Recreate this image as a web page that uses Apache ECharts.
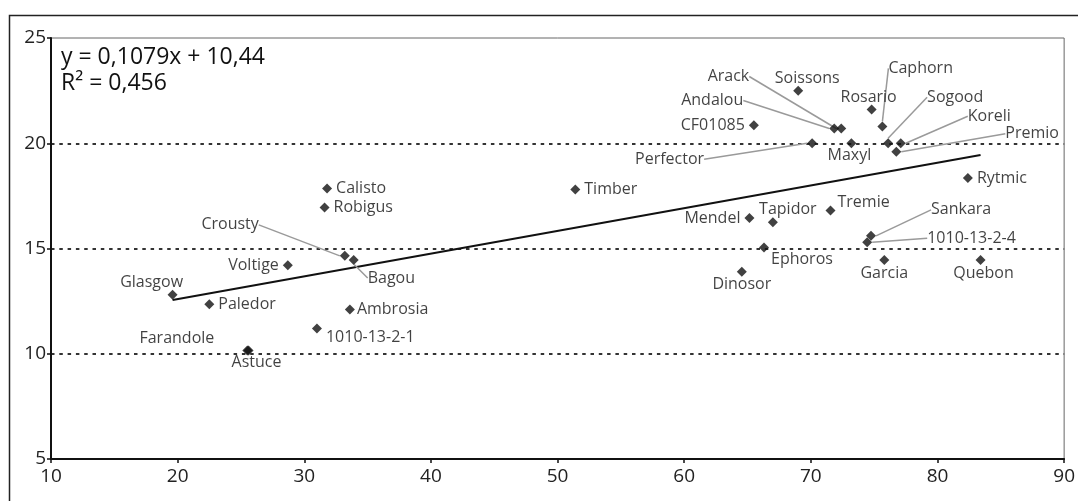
<!DOCTYPE html>
<html>
<head>
<meta charset="utf-8">
<script src="https://cdn.jsdelivr.net/npm/echarts@6/dist/echarts.min.js"></script>
<style>
html,body{margin:0;padding:0;background:#fff;}
#chart{width:1078px;height:501px;}
</style>
</head>
<body>
<div id="chart"></div>
<script>
// ---- data ----
var names = ['Glasgow','Paledor','Farandole','Astuce','Voltige','Calisto','Robigus','Crousty','Bagou','Ambrosia','1010-13-2-1',
  'Timber','CF01085','Soissons','Andalou','Arack','Perfector','Maxyl','Mendel','Tapidor','Tremie','Ephoros','Dinosor',
  'Rosario','Caphorn','Sogood','Koreli','Premio','Rytmic','Sankara','1010-13-2-4','Garcia','Quebon'];
var xValues = [19.6,22.5,25.5,25.6,28.7,31.8,31.6,33.2,33.9,33.6,31.0,
  51.4,65.5,69.0,71.85,72.4,70.1,73.2,65.15,67.0,71.55,66.3,64.55,
  74.8,75.65,76.1,77.1,76.75,82.4,74.75,74.45,75.8,83.4];
var yValues = [12.8,12.35,10.15,10.15,14.2,17.85,16.95,14.65,14.45,12.1,11.2,
  17.8,20.85,22.5,20.7,20.7,20.0,20.0,16.45,16.25,16.8,15.05,13.9,
  21.6,20.8,20.0,20.0,19.6,18.35,15.6,15.3,14.45,14.45];
var xTicks = [10,20,30,40,50,60,70,80,90];
var yTicks = [5,10,15,20,25];
var trendSlope = 0.1079;
var trendIntercept = 10.44;
var equationText = 'y = 0,1079x + 10,44';
var r2Text = 'R\u00B2 = 0,456';

// ---- label placement (style only) ----
var simplePlace = {
  'Glasgow': {position:'top', dx:-21, dy:5},
  'Paledor': {position:'right'},
  'Farandole': {position:'left', dx:-24, dy:-12},
  'Astuce': {position:'bottom', dx:8, dy:-5},
  'Voltige': {position:'left'},
  'Calisto': {position:'right'},
  'Robigus': {position:'right'},
  'Ambrosia': {position:'right', dx:-2},
  '1010-13-2-1': {position:'right', dy:9},
  'Timber': {position:'right'},
  'CF01085': {position:'left'},
  'Soissons': {position:'top', dx:9, dy:5},
  'Maxyl': {position:'bottom', dx:-2, dy:-5},
  'Mendel': {position:'left'},
  'Tapidor': {position:'top', dx:15, dy:4},
  'Tremie': {position:'right', dx:-2, dy:-8},
  'Ephoros': {position:'right', dx:-2, dy:12},
  'Dinosor': {position:'bottom', dy:-4},
  'Rosario': {position:'top', dx:-3, dy:5},
  'Rytmic': {position:'right'},
  'Garcia': {position:'bottom', dy:-4},
  'Quebon': {position:'bottom', dx:3, dy:-4}
};
var leaderPlace = {
  'Crousty': {dx:-86, dy:-31, align:'right'},
  'Bagou': {dx:14, dy:18, align:'left'},
  'Andalou': {dx:-91, dy:-28, align:'right'},
  'Arack': {dx:-92, dy:-52, align:'right'},
  'Perfector': {dx:-108, dy:16, align:'right'},
  'Caphorn': {dx:6, dy:-58, align:'left'},
  'Sogood': {dx:39, dy:-46, align:'left'},
  'Koreli': {dx:67, dy:-27, align:'left'},
  'Premio': {dx:109, dy:-18, align:'left'},
  'Sankara': {dx:60, dy:-26, align:'left'},
  '1010-13-2-4': {dx:60, dy:-4, align:'left'}
};

var points = names.map(function(n, i){
  var item = {name: n, value: [xValues[i], yValues[i]]};
  if (simplePlace[n]) {
    item.label = {position: simplePlace[n].position};
  }
  if (leaderPlace[n]) {
    item.labelLine = {show: true};
  }
  return item;
});

var xMin = Math.min.apply(null, xValues);
var xMax = Math.max.apply(null, xValues);
var trendData = [[xMin, trendSlope*xMin + trendIntercept],[xMax, trendSlope*xMax + trendIntercept]];

var FONT = '"Open Sans", "Noto Sans", sans-serif';
var chart = echarts.init(document.getElementById('chart'), null, {renderer:'canvas'});
chart.setOption({
  animation: false,
  backgroundColor: '#fff',
  grid: {left: 51, right: 2, top: 38, bottom: 42, show: true, borderColor: '#666', borderWidth: 1, containLabel: false},
  xAxis: {
    type: 'value', min: xTicks[0], max: xTicks[xTicks.length-1], interval: 10,
    axisLine: {show: true, onZero: false, lineStyle: {color: '#111', width: 2}},
    axisTick: {show: true, inside: false, length: 4, lineStyle: {color: '#111', width: 1.5}},
    axisLabel: {color: '#222', fontSize: 19, fontFamily: FONT, margin: 8, showMaxLabel: true},
    splitLine: {show: false}
  },
  yAxis: {
    type: 'value', min: yTicks[0], max: yTicks[yTicks.length-1], interval: 5,
    axisLine: {show: true, onZero: false, lineStyle: {color: '#111', width: 2}},
    axisTick: {show: true, inside: false, length: 4, lineStyle: {color: '#111', width: 1.5}},
    axisLabel: {color: '#222', fontSize: 19, fontFamily: FONT, margin: 5},
    splitLine: {show: true, showMinLine: false, showMaxLine: false, lineStyle: {color: '#333', width: 1.8, type: [3.5, 4.8]}}
  },
  graphic: [
    {type: 'rect', left: 7, top: 13, shape: {width: 1200, height: 600}, style: {fill: 'none', stroke: '#222', lineWidth: 1.5}, silent: true, z: -1},
    {type: 'text', x: 61, y: 57, style: {text: equationText, font: '23px ' + FONT, fill: '#111', verticalAlign: 'middle'}},
    {type: 'text', x: 61, y: 83, style: {text: r2Text, font: '23px ' + FONT, fill: '#111', verticalAlign: 'middle'}}
  ],
  series: [
    {
      type: 'line', data: trendData, symbol: 'none', silent: true,
      lineStyle: {color: '#111', width: 2}, z: 1
    },
    {
      type: 'scatter', data: points, symbol: 'diamond', symbolSize: 10,
      itemStyle: {color: '#111'}, z: 3,
      label: {show: true, formatter: '{b}', position: 'right', distance: 4, color: '#111', fontSize: 16, fontFamily: FONT},
      labelLine: {show: false, lineStyle: {color: '#9a9a9a', width: 1.5}},
      labelLayout: function(p) {
        var n = names[p.dataIndex];
        var lp = leaderPlace[n];
        if (lp) {
          var cx = p.rect.x + p.rect.width/2, cy = p.rect.y + p.rect.height/2;
          return {x: cx + lp.dx, y: cy + lp.dy, align: lp.align, verticalAlign: 'middle', hideOverlap: false};
        }
        var sp = simplePlace[n];
        if (sp && (sp.dx || sp.dy)) {
          return {dx: sp.dx || 0, dy: sp.dy || 0, hideOverlap: false};
        }
        return {hideOverlap: false};
      }
    }
  ]
});
</script>
</body>
</html>
